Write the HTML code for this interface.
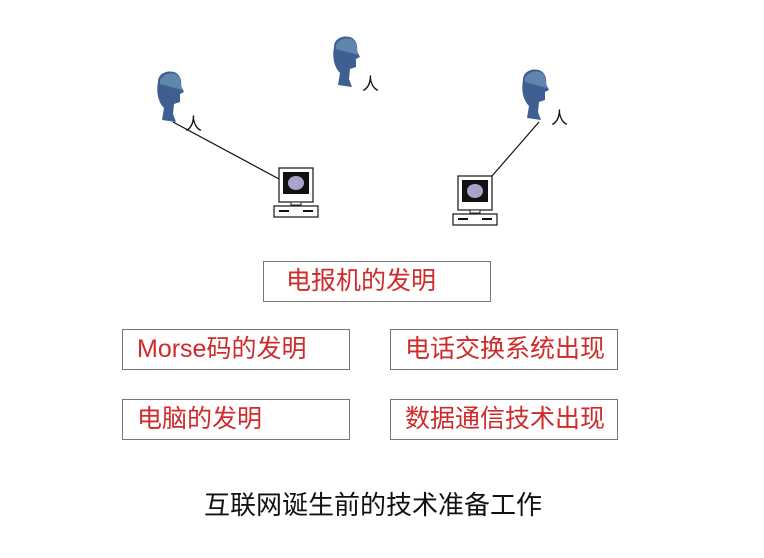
<!DOCTYPE html>
<html><head><meta charset="utf-8"><style>
body{margin:0;width:764px;height:558px;background:#fff;position:relative;overflow:hidden;font-family:"Liberation Sans","Noto Sans CJK SC",sans-serif}
.b{position:absolute;border:1.5px solid #777;box-sizing:border-box;color:#d02a2a;font-size:25px;line-height:1;padding-left:14px;display:flex;align-items:center;white-space:nowrap}
.t{position:absolute;font-size:17px;color:#111}
</style></head><body>
<svg width="764" height="558" style="position:absolute;left:0;top:0">
<defs>
<g id="head">
<path d="M6,10 C6,2 14,-2 22,0 C28,2 30,8 29,14 L32,20 L28,22 L28,30 L22,32 L21,42 L24,50 L10,48 L12,36 C6,30 4,20 6,10Z" fill="#3e5f8f"/>
<path d="M8,8 C12,0 24,-1 28,6 L30,18 L8,12Z" fill="#5f86ad"/>
</g>
<g id="pc">
<rect x="0" y="0" width="34" height="34" fill="#fff" stroke="#222" stroke-width="1.3"/>
<rect x="4" y="4" width="26" height="22" fill="#111"/>
<ellipse cx="17" cy="15" rx="8" ry="7" fill="#a9a4cc"/>
<rect x="12" y="34" width="10" height="3" fill="#fff" stroke="#222"/>
<rect x="-5" y="38" width="44" height="11" fill="#fff" stroke="#222" stroke-width="1.3"/>
<rect x="0" y="42" width="10" height="2" fill="#111"/>
<rect x="24" y="42" width="10" height="2" fill="#111"/>
</g>
</defs>
<use href="#head" x="152" y="72"/>
<use href="#head" x="328" y="37"/>
<use href="#head" x="517" y="70"/>
<line x1="173" y1="122" x2="279" y2="179" stroke="#111" stroke-width="1.2"/>
<line x1="539" y1="122" x2="492" y2="176" stroke="#111" stroke-width="1.2"/>
<use href="#pc" x="279" y="168"/>
<use href="#pc" x="458" y="176"/>
</svg>
<div class="t" style="left:185px;top:110px">人</div>
<div class="t" style="left:362px;top:70px">人</div>
<div class="t" style="left:551px;top:104px">人</div>
<div class="b" style="left:263px;top:261px;width:228px;height:41px;padding-left:22px">电报机的发明</div>
<div class="b" style="left:122px;top:329px;width:228px;height:41px">Morse码的发明</div>
<div class="b" style="left:390px;top:329px;width:228px;height:41px">电话交换系统出现</div>
<div class="b" style="left:122px;top:399px;width:228px;height:41px">电脑的发明</div>
<div class="b" style="left:390px;top:399px;width:228px;height:41px">数据通信技术出现</div>
<div style="position:absolute;left:204px;top:492px;font-size:26px;color:#111;line-height:1;white-space:nowrap">互联网诞生前的技术准备工作</div>
</body></html>
